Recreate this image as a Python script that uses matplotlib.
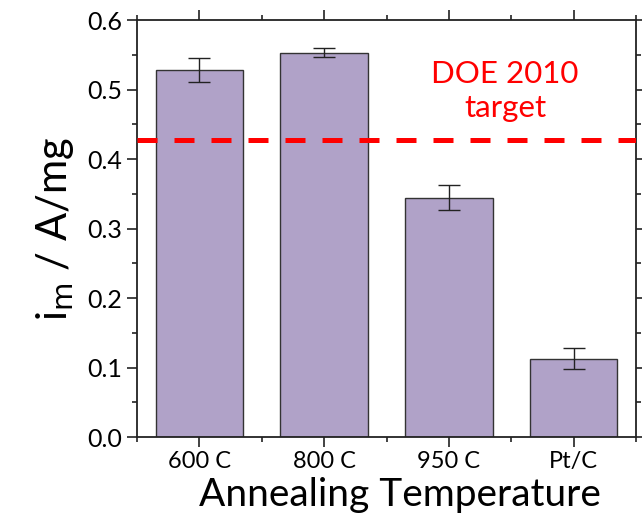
import numpy as np
import matplotlib
matplotlib.use("Agg")
import matplotlib.pyplot as plt
from matplotlib.ticker import MultipleLocator

plt.rcParams['font.family'] = ['Lato', 'DejaVu Sans']

# data
categories = ["600 C", "800 C", "950 C", "Pt/C"]
activity = [0.528, 0.553, 0.344, 0.113]
activity_err = [0.017, 0.0065, 0.018, 0.0145]
doe_target = 0.427

fig = plt.figure(figsize=(6.42, 5.13), dpi=100)
ax = fig.add_axes([0.2134, 0.148, 0.7773, 0.813])

x = np.arange(len(categories))
ax.bar(x, activity, width=0.7, color="#b0a2c8", edgecolor="#333333",
       linewidth=1.0, zorder=2)
ax.errorbar(x, activity, yerr=activity_err, fmt="none", ecolor="#222222",
            elinewidth=1.0, capsize=8, capthick=1.0, zorder=3)

# DOE target line
ax.axhline(doe_target, color="#ff0000", linewidth=3.6, dashes=(4, 3.4),
           zorder=4)
ax.text(2.45, 0.522, "DOE 2010", color="#ff0000", fontsize=22.5,
        ha="center", va="center")
ax.text(2.45, 0.474, "target", color="#ff0000", fontsize=22.5,
        ha="center", va="center")

ax.set_xlim(-0.5, 3.5)
ax.set_ylim(0, 0.6)
ax.set_xticks(x)
ax.set_xticklabels(categories, fontsize=17)
ax.xaxis.set_minor_locator(MultipleLocator(0.5))
ax.yaxis.set_major_locator(MultipleLocator(0.1))
ax.yaxis.set_minor_locator(MultipleLocator(0.05))
ax.set_yticklabels([f"{v:.1f}" for v in ax.get_yticks()], fontsize=18)

ax.tick_params(which="both", direction="out", top=True, right=True,
               width=1.2, color="#222222")
ax.tick_params(which="major", length=7)
ax.tick_params(which="minor", length=3.5)
ax.tick_params(axis="x", pad=3)

for s in ax.spines.values():
    s.set_linewidth(1.3)
    s.set_color("#222222")

ax.set_xlabel("Annealing Temperature", fontsize=28)
ax.xaxis.set_label_coords(0.527, -0.095)
ax.set_ylabel(r"i$_{\rm m}$ / A/mg", fontsize=30, labelpad=8)

fig.savefig("out.png", dpi=100)
